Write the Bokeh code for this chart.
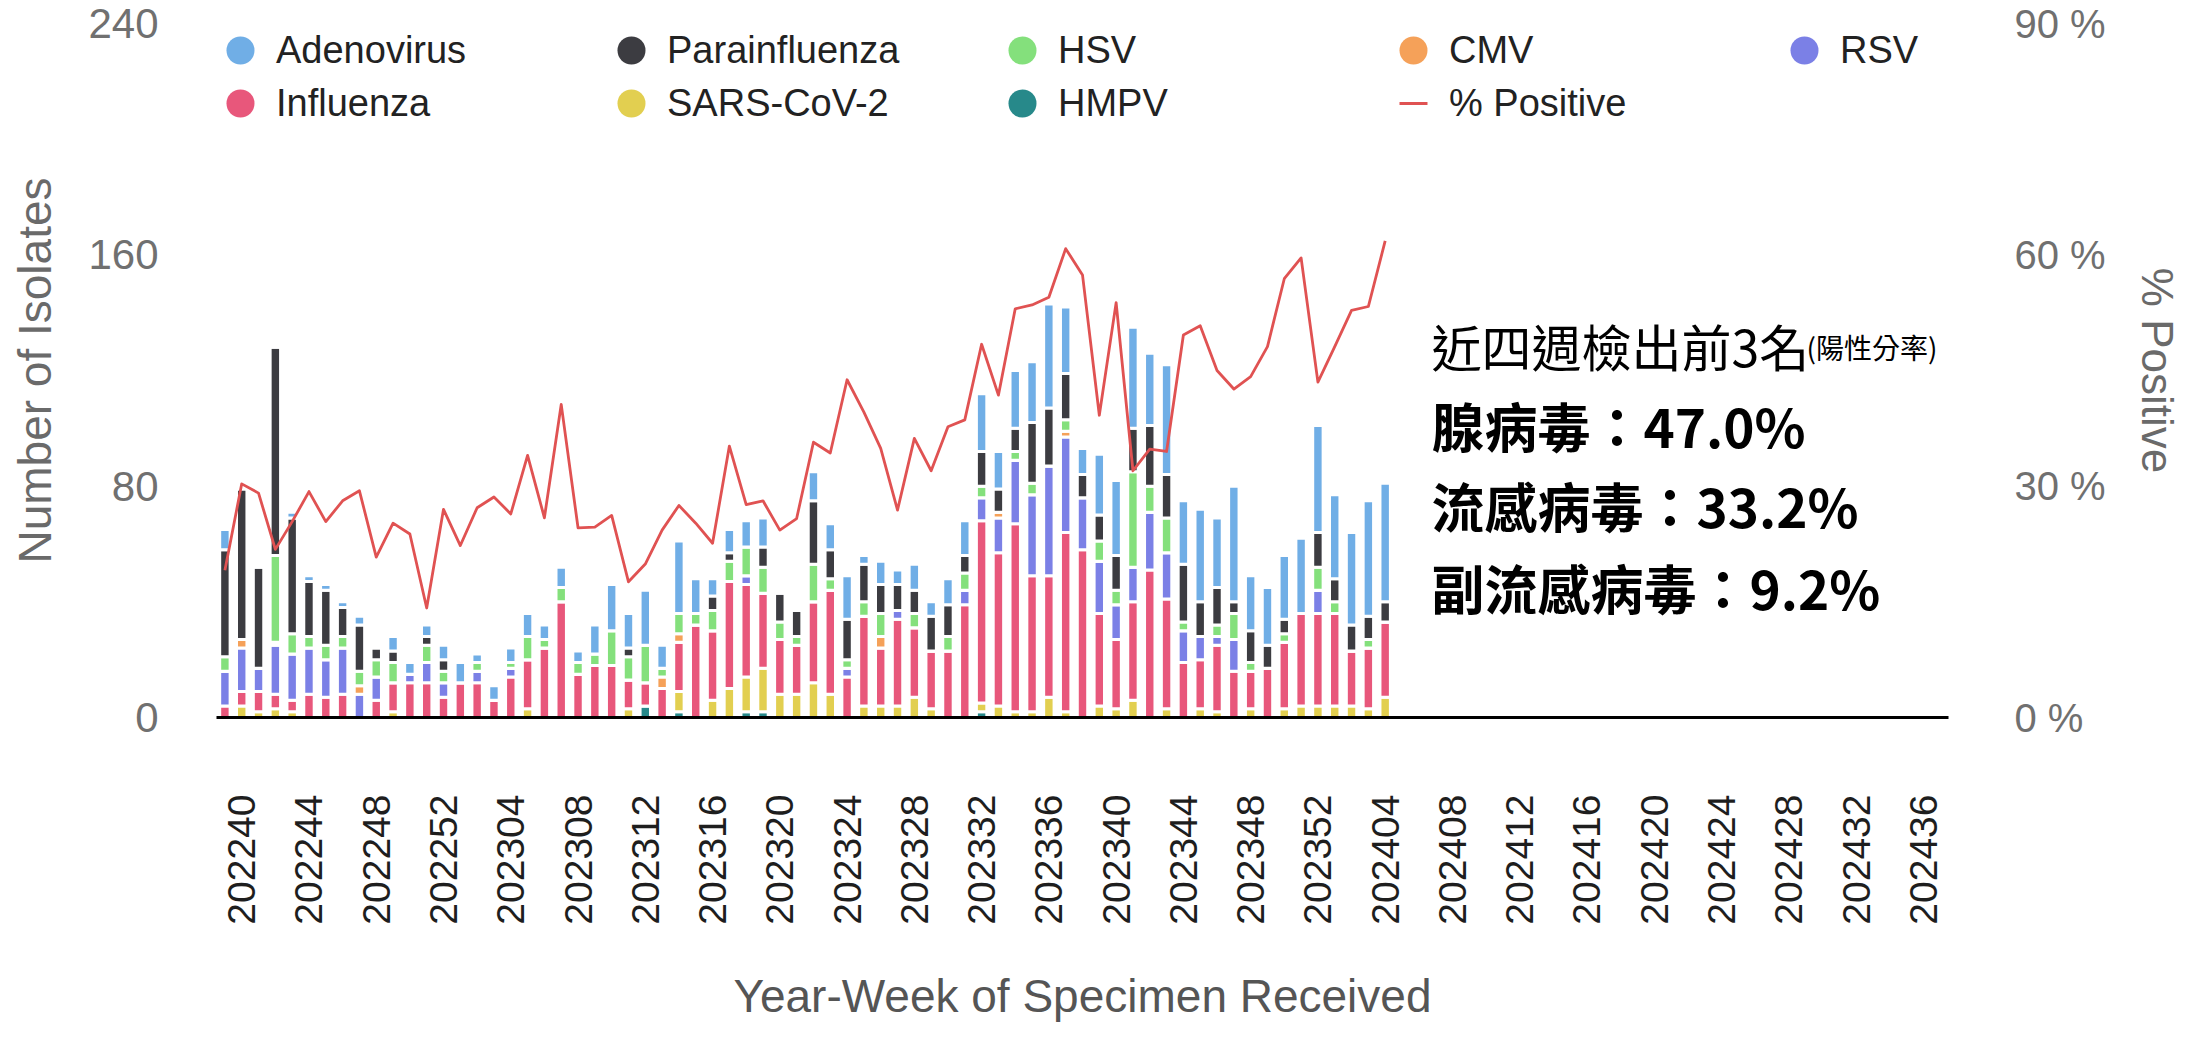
import math
from bokeh.plotting import figure
from bokeh.models import (Range1d, LinearAxis, FixedTicker, ColumnDataSource, Legend,
                          LegendItem, Label, PrintfTickFormatter)
from bokeh.embed import file_html
from bokeh.resources import INLINE

# ---------------- data ----------------
weeks = ["202239", "202240", "202241", "202242", "202243", "202244", "202245", "202246",
         "202247", "202248", "202249", "202250", "202251", "202252",
         "202301", "202302", "202303", "202304", "202305", "202306", "202307", "202308",
         "202309", "202310", "202311", "202312", "202313", "202314", "202315", "202316",
         "202317", "202318", "202319", "202320", "202321", "202322", "202323", "202324",
         "202325", "202326", "202327", "202328", "202329", "202330", "202331", "202332",
         "202333", "202334", "202335", "202336", "202337", "202338", "202339", "202340",
         "202341", "202342", "202343", "202344", "202345", "202346", "202347", "202348",
         "202349", "202350", "202351", "202352",
         "202401", "202402", "202403", "202404"]

hmpv = [0, 0, 0, 0, 0, 0, 0, 0, 0, 0, 0, 0, 0, 0,
        0, 0, 0, 0, 0, 0, 0, 0, 0, 0, 0, 4, 0, 2, 0, 0, 0, 2, 2, 0, 0, 0, 0, 0, 0, 0, 0, 0,
        0, 0, 0, 2, 0, 0, 0, 0, 0, 0, 0, 0, 0, 0, 0, 0, 0, 0, 0, 0, 0, 0, 0, 0,
        0, 0, 0, 0]
sars = [0, 4, 2, 3, 2, 0, 0, 0, 0, 0, 2, 0, 0, 0,
        0, 0, 0, 0, 3, 0, 0, 0, 0, 0, 3, 0, 0, 7, 0, 6, 10, 12, 15, 8, 8, 12, 8, 0, 4, 4, 4, 7,
        3, 0, 0, 3, 4, 2, 2, 7, 2, 0, 4, 3, 6, 0, 3, 0, 3, 2, 0, 3, 0, 3, 4, 4,
        4, 4, 3, 7]
influenza = [4, 5, 7, 5, 4, 8, 7, 8, 0, 6, 10, 12, 12, 7,
             12, 12, 6, 14, 17, 24, 40, 15, 18, 18, 10, 8, 10, 17, 32, 24, 37, 32, 26, 19, 17,
             28, 36, 14, 31, 20, 30, 24, 20, 23, 39, 63, 53, 65, 47, 42, 62, 58, 32, 24, 34,
             51, 38, 19, 17, 23, 16, 13, 17, 23, 32, 32,
             32, 19, 21, 26]
rsv = [12, 15, 8, 17, 16, 16, 13, 16, 8, 8, 0, 3, 7, 5,
       0, 4, 0, 3, 0, 0, 0, 0, 0, 0, 0, 0, 0, 0, 0, 0, 0, 3, 0, 0, 0, 0, 0, 3, 0, 0, 3, 0,
       0, 0, 5, 8, 12, 22, 28, 38, 33, 18, 18, 12, 12, 20, 16, 11, 8, 3, 11, 0, 0, 0, 0, 8,
       0, 0, 0, 0]
cmv = [0, 3, 0, 1, 0, 0, 0, 0, 3, 0, 0, 0, 0, 0,
       0, 0, 0, 0, 0, 0, 0, 0, 0, 0, 0, 0, 4, 3, 0, 0, 0, 0, 0, 0, 0, 0, 0, 0, 0, 4, 0, 0,
       0, 0, 0, 0, 2, 0, 0, 0, 2, 0, 0, 0, 0, 0, 0, 0, 0, 0, 0, 0, 0, 0, 0, 0,
       0, 0, 0, 0]
hsv = [5, 0, 0, 30, 7, 4, 5, 4, 5, 6, 7, 0, 6, 4,
       0, 3, 0, 2, 8, 3, 5, 4, 4, 12, 8, 13, 3, 7, 4, 7, 7, 10, 9, 6, 3, 13, 4, 3, 5, 8, 0, 5,
       0, 5, 6, 4, 0, 3, 4, 0, 4, 0, 7, 5, 33, 9, 12, 3, 0, 4, 9, 3, 0, 3, 0, 8,
       4, 0, 3, 0]
parainfluenza = [37, 52, 35, 72, 40, 19, 19, 10, 16, 4, 4, 0, 3, 4,
                 0, 0, 0, 0, 0, 0, 0, 0, 0, 0, 3, 0, 0, 0, 0, 5, 3, 0, 7, 10, 9, 22, 10, 14,
                 13, 10, 9, 8, 12, 11, 6, 12, 8, 8, 21, 20, 16, 8, 9, 12, 15, 21, 15, 20, 12,
                 13, 4, 11, 8, 5, 0, 12,
                 8, 9, 8, 7]
adenovirus = [7, 0, 0, 0, 2, 2, 2, 2, 3, 0, 5, 4, 4, 5,
              7, 3, 5, 5, 8, 5, 7, 4, 10, 16, 12, 19, 8, 25, 12, 6, 8, 9, 10, 0, 0, 10, 9, 15,
              3, 8, 5, 9, 5, 9, 12, 20, 13, 20, 21, 36, 23, 9, 21, 26, 35, 25, 38, 22, 32, 24,
              40, 19, 20, 22, 26, 37,
              29, 32, 40, 41]
pct_positive = [19.1, 30.3, 29.1, 21.8, 25.4, 29.3, 25.4, 28.1, 29.4, 20.8, 25.2, 23.8, 14.2,
                27.0, 22.3, 27.2, 28.6, 26.4, 34.0, 25.9, 40.6, 24.6, 24.7, 26.2, 17.6, 19.9,
                24.3, 27.5, 25.2, 22.6, 35.2, 27.6, 28.1, 24.3, 25.8, 35.7, 34.3, 43.8, 39.6,
                34.9, 26.9, 36.2, 32.0, 37.7, 38.6, 48.4, 41.8, 53.0, 53.5, 54.5, 60.8, 57.4,
                39.2, 53.8, 32.0, 34.8, 34.5, 49.6, 50.8, 45.0, 42.6, 44.2, 48.1, 56.9, 59.6,
                43.5, 48.1, 52.8, 53.3, 61.8]

tick_labels = ["202240", "202244", "202248", "202252", "202304", "202308", "202312", "202316",
               "202320", "202324", "202328", "202332", "202336", "202340", "202344", "202348",
               "202352", "202404", "202408", "202412", "202416", "202420", "202424", "202428",
               "202432", "202436"]

y_ticks = [0, 80, 160, 240]
pct_ticks = [0, 30, 60, 90]

series_names = ["HMPV", "SARS-CoV-2", "Influenza", "RSV", "CMV", "HSV", "Parainfluenza", "Adenovirus"]
series_colors = {"Adenovirus": "#70aee6", "Parainfluenza": "#3c3c41", "HSV": "#84e07c",
                 "CMV": "#f5a159", "RSV": "#7b80e6", "Influenza": "#e8577b",
                 "SARS-CoV-2": "#e2cf50", "HMPV": "#27898a"}
line_color = "#e05252"

notes_title = "近四週檢出前3名"
notes_sub = "(陽性分率)"
notes_lines = ["腺病毒：47.0%", "流感病毒：33.2%", "副流感病毒：9.2%"]


def week_pos(w):
    return (int(w[:4]) - 2022) * 52 + int(w[4:]) - 39


x = [week_pos(w) for w in weeks]
source = ColumnDataSource(dict(x=x, week=weeks, pct=pct_positive, **{
    "HMPV": hmpv, "SARS-CoV-2": sars, "Influenza": influenza, "RSV": rsv, "CMV": cmv,
    "HSV": hsv, "Parainfluenza": parainfluenza, "Adenovirus": adenovirus}))

FONT = "Liberation Sans"

p = figure(width=2184, height=1025, x_range=Range1d(-0.5, 102.5), y_range=Range1d(0, 240),
           output_backend="svg", toolbar_location=None,
           min_border_left=216, min_border_right=235, min_border_top=23, min_border_bottom=308)
p.outline_line_color = None
p.xgrid.visible = False
p.ygrid.visible = False
p.background_fill_color = "white"
p.border_fill_color = "white"

p.vbar_stack(series_names, x="x", width=0.62, source=source,
             fill_color=[series_colors[n] for n in series_names],
             line_color="white", line_width=3)

p.extra_y_ranges = {"pct": Range1d(0, 90)}
p.line(x="x", y="pct", source=source, y_range_name="pct", line_color=line_color,
       line_width=2.8, line_join="round")

# x axis
xa = p.xaxis[0]
xa.ticker = FixedTicker(ticks=[week_pos(t) for t in tick_labels])
xa.major_label_overrides = {week_pos(t): t for t in tick_labels}
xa.major_label_orientation = math.pi / 2
xa.major_label_text_font = FONT
xa.major_label_text_font_size = "39px"
xa.major_label_text_color = "#1e1e1e"
xa.major_label_standoff = 77
xa.major_tick_out = 0
xa.major_tick_in = 0
xa.minor_tick_out = 0
xa.minor_tick_in = 0
xa.axis_line_color = "black"
xa.axis_line_width = 3
xa.axis_label = "Year-Week of Specimen Received"
xa.axis_label_text_font = FONT
xa.axis_label_text_font_size = "46px"
xa.axis_label_text_font_style = "normal"
xa.axis_label_text_color = "#555555"
xa.axis_label_standoff = 42

# left axis
ya = p.yaxis[0]
ya.ticker = FixedTicker(ticks=y_ticks)
ya.axis_line_color = None
ya.major_tick_out = 0
ya.major_tick_in = 0
ya.minor_tick_out = 0
ya.minor_tick_in = 0
ya.major_label_standoff = 58
ya.major_label_text_font = FONT
ya.major_label_text_font_size = "42px"
ya.major_label_text_color = "#707070"
ya.axis_label = "Number of Isolates"
ya.axis_label_text_font = FONT
ya.axis_label_text_font_size = "46px"
ya.axis_label_text_font_style = "normal"
ya.axis_label_text_color = "#6a6a6a"
ya.axis_label_standoff = 24

# right axis
ra = LinearAxis(y_range_name="pct", ticker=FixedTicker(ticks=pct_ticks),
                formatter=PrintfTickFormatter(format="%d %%"), axis_label="% Positive")
ra.axis_line_color = None
ra.major_tick_out = 0
ra.major_tick_in = 0
ra.minor_tick_out = 0
ra.minor_tick_in = 0
ra.major_label_standoff = 66
ra.major_label_text_font = FONT
ra.major_label_text_font_size = "40px"
ra.major_label_text_color = "#707070"
ra.axis_label_text_font = FONT
ra.axis_label_text_font_size = "44px"
ra.axis_label_text_font_style = "normal"
ra.axis_label_text_color = "#6a6a6a"
ra.axis_label_standoff = 24
p.add_layout(ra, "right")

# legend swatches: hidden renderers of the same data, drawn only as legend glyphs
legend_order = ["Adenovirus", "Parainfluenza", "HSV", "CMV", "RSV", "Influenza", "SARS-CoV-2", "HMPV"]
items = []
for n in legend_order:
    r = p.scatter(x="x", y=n, source=source, marker="circle", size=28,
                  fill_color=series_colors[n], line_color=None, visible=False)
    items.append(LegendItem(label=n, renderers=[r]))
rl = p.scatter(x="x", y="pct", source=source, y_range_name="pct", marker="dash", size=28,
               line_color=line_color, line_width=3, visible=False)
items.append(LegendItem(label="% Positive", renderers=[rl]))

legend_style = dict(orientation="horizontal", glyph_width=70, glyph_height=70,
                    label_standoff=1, label_width=320, spacing=0, padding=0, margin=0,
                    border_line_color=None, background_fill_alpha=0,
                    inactive_fill_alpha=0,
                    label_text_font=FONT, label_text_font_size="38px",
                    label_text_color="#222222", label_text_baseline="middle")
p.add_layout(Legend(items=items[:5], location=(-11, 632), **legend_style))
p.add_layout(Legend(items=items[5:], location=(-11, 579), **legend_style))

# annotation text (screen units relative to the plot frame; kept inside the frame)
CJK = "Noto Sans CJK TC"
p.add_layout(Label(x=1215, y=373, x_units="screen", y_units="screen", text=notes_title,
                   text_font=CJK, text_font_size="50px", text_baseline="middle",
                   text_color="black"))
p.add_layout(Label(x=1590, y=371, x_units="screen", y_units="screen", text=notes_sub,
                   text_font=CJK, text_font_size="28px", text_baseline="middle",
                   text_color="black"))
for t, sy in zip(notes_lines, [293, 213, 131]):
    p.add_layout(Label(x=1215, y=sy, x_units="screen", y_units="screen", text=t,
                       text_font=CJK, text_font_size="53px", text_font_style="bold",
                       text_baseline="middle", text_color="black"))

open("out.html", "w").write(file_html(p, INLINE))
